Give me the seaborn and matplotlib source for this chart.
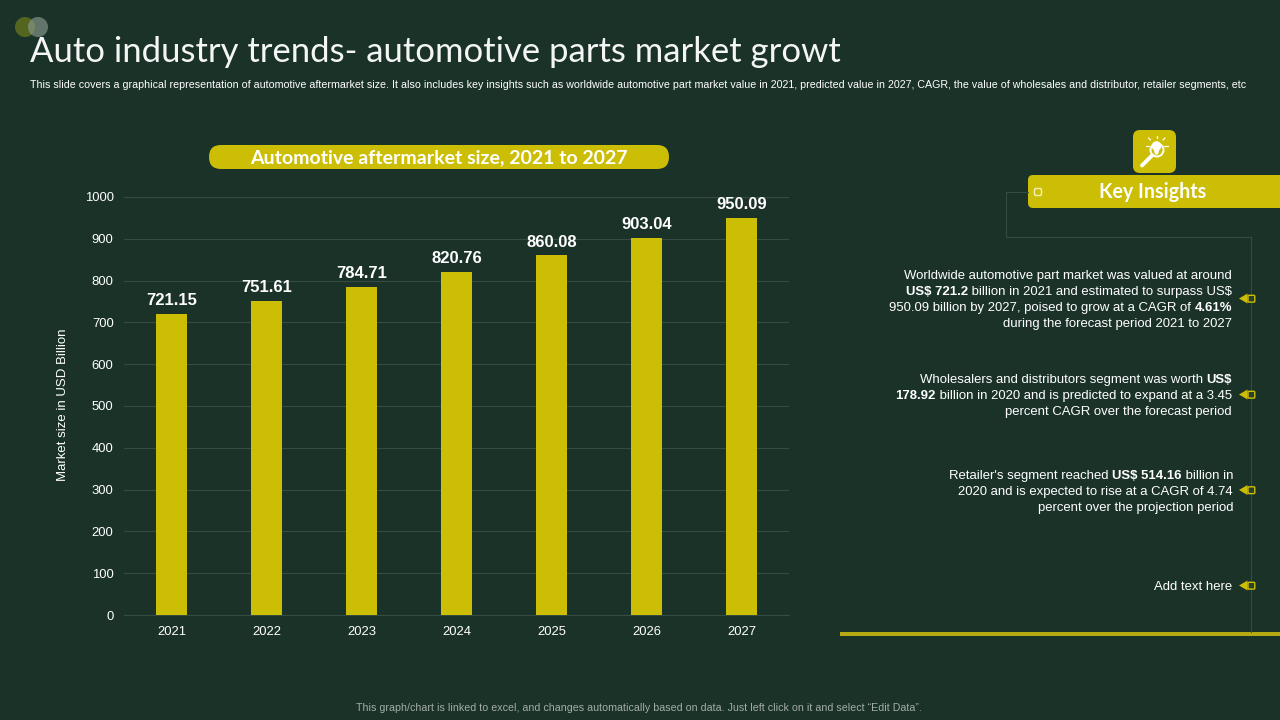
import matplotlib
matplotlib.use("Agg")
import matplotlib.pyplot as plt
from matplotlib.patches import FancyBboxPatch, Rectangle, Circle, Polygon
import pandas as pd
import seaborn as sns

years = ["2021", "2022", "2023", "2024", "2025", "2026", "2027"]
market_size = [721.15, 751.61, 784.71, 820.76, 860.08, 903.04, 950.09]
value_labels = ["721.15", "751.61", "784.71", "820.76", "860.08", "903.04", "950.09"]
y_ticks = [0, 100, 200, 300, 400, 500, 600, 700, 800, 900, 1000]

title = "Auto industry trends- automotive parts market growt"
subtitle = ("This slide covers a graphical representation of automotive aftermarket size. It also includes key insights such as "
            "worldwide automotive part market value in 2021, predicted value in 2027, CAGR, the value of wholesales and distributor, retailer segments, etc")
chart_title = "Automotive aftermarket size, 2021 to 2027"
y_label = "Market size in USD Billion"
footer = "This graph/chart is linked to excel, and changes automatically based on data. Just left click on it and select \u201cEdit Data\u201d."
insight_head = "Key Insights"
insights = [
    [[("Worldwide automotive part market was valued at around", False)],
     [("US$ 721.2", True), (" billion in 2021 and estimated to surpass US$", False)],
     [("950.09 billion by 2027, poised to grow at a CAGR of ", False), ("4.61%", True)],
     [("during the forecast period 2021 to 2027", False)]],
    [[("Wholesalers and distributors segment was worth ", False), ("US$", True)],
     [("178.92", True), (" billion in 2020 and is predicted to expand at a 3.45", False)],
     [("percent CAGR over the forecast period", False)]],
    [[("Retailer's segment reached ", False), ("US$ 514.16", True), (" billion in", False)],
     [("2020 and is expected to rise at a CAGR of 4.74", False)],
     [("percent over the projection period", False)]],
    [[("Add text here", False)]],
]

BG = "#1B3229"
YEL = "#CCBE04"
WHITE = "#FFFFFF"
GRID = "#364B41"
sns.set_theme(style="dark")
plt.rcParams["font.family"] = ["Liberation Sans", "DejaVu Sans"]

W, H = 1280, 720
fig = plt.figure(figsize=(W / 100, H / 100), dpi=100, facecolor=BG)

# overlay in pixel coordinates
ov = fig.add_axes([0, 0, 1, 1], zorder=0)
ov.set_xlim(0, W); ov.set_ylim(H, 0); ov.axis("off")

ax = fig.add_axes([124 / W, 1 - 615 / H, (789 - 124) / W, (615 - 197) / H], zorder=2, facecolor="none")
df = pd.DataFrame({"year": years, "size": market_size})
sns.barplot(data=df, x="year", y="size", color=YEL, saturation=1, width=0.316, ax=ax, zorder=3, linewidth=0, edgecolor="none")
ax.set_xlim(-0.5, 6.5); ax.set_ylim(0, 1000)
ax.set_yticks(y_ticks)
ax.set_xlabel(""); ax.set_ylabel("")
ax.grid(axis="y", color=GRID, lw=0.8, zorder=0); ax.grid(axis="x", visible=False)
ax.set_axisbelow(True)
for s in ax.spines.values():
    s.set_visible(False)
ax.spines["bottom"].set_visible(True); ax.spines["bottom"].set_color(GRID); ax.spines["bottom"].set_linewidth(0.8)
ax.tick_params(axis="both", colors=WHITE, labelsize=9.4, length=0)
ax.tick_params(axis="y", pad=7.5)
ax.tick_params(axis="x", pad=7.8)
for i, (v, t) in enumerate(zip(market_size, value_labels)):
    ax.annotate(t, (i, v), xytext=(0, 4.2), textcoords="offset points", ha="center", va="bottom",
                color=WHITE, fontsize=12, fontweight="bold")

ov.text(63, 405, y_label, rotation=90, color=WHITE, fontsize=9.5, ha="center", va="center")

# header
ov.add_patch(Circle((25, 27), 10, color="#5A6B1E", alpha=0.9, lw=0))
ov.add_patch(Circle((38, 27), 10, color="#8A9A90", alpha=0.65, lw=0))
ov.text(30, 52, title, color="#F4F6F5", fontsize=24.9, family=["Lato", "DejaVu Sans"], ha="left", va="center")
ov.text(30, 84.5, subtitle, color=WHITE, fontsize=7.66, ha="left", va="center")
ov.text(639, 708, footer, color="#A3ADA8", fontsize=7.64, ha="center", va="center")

# chart title pill
ov.add_patch(FancyBboxPatch((209, 145), 460, 24, boxstyle="round,pad=0,rounding_size=12", fc=YEL, ec="none"))
ov.text(439, 157.5, chart_title, color=WHITE, fontsize=14, fontweight="bold", family=["Lato", "DejaVu Sans"], ha="center", va="center")

# key insights
ov.plot([1028, 1006, 1006, 1251, 1251], [192, 192, 237, 237, 632], color=GRID, lw=0.8)
ov.add_patch(FancyBboxPatch((1133, 130), 43, 43, boxstyle="round,pad=0,rounding_size=7", fc=YEL, ec="none"))
ov.add_patch(FancyBboxPatch((1028, 175), 270, 33, boxstyle="round,pad=0,rounding_size=5", fc=YEL, ec="none"))
ov.add_patch(FancyBboxPatch((1034.5, 188.5), 7, 7, boxstyle="round,pad=0,rounding_size=1.5", fc=YEL, ec="#F3F0C0", lw=1))
ov.text(1153, 191.5, insight_head, color=WHITE, fontsize=14.1, fontweight="bold", family=["Lato", "DejaVu Sans"], ha="center", va="center")

# icon: bulb with magnifier
ov.add_patch(Circle((1157, 150), 6.5, fc="none", ec=WHITE, lw=1.4))
ov.add_patch(Circle((1156.5, 146), 4.8, fc=WHITE, ec="none"))
ov.add_patch(Polygon([[1153.5, 149], [1159.5, 149], [1158, 154.5], [1155, 154.5]], fc=WHITE, ec="none"))
ov.plot([1152, 1142], [155.5, 165.5], color=WHITE, lw=2.8, solid_capstyle="round")
for x0, y0, x1, y1 in [(1157, 138, 1157, 135.5), (1150.5, 140, 1148.5, 138), (1163, 140, 1165, 138),
                       (1164, 146, 1168, 146), (1149, 146, 1146, 146)]:
    ov.plot([x0, x1], [y0, y1], color=WHITE, lw=0.9)

# bottom rule
ov.add_patch(Rectangle((840, 632), 440, 4, fc="#B5AA14", ec="none"))

# insight text, right aligned run by run
fig.canvas.draw()
rend = fig.canvas.get_renderer()
FS = 9.43
def run_line(y, runs, right):
    x = right
    for s, bold in reversed(runs):
        wt = "bold" if bold else "normal"
        g = ov.text(0, 0, "|" + s + "|", fontsize=FS, fontweight=wt)
        g2 = ov.text(0, 0, "||", fontsize=FS, fontweight=wt)
        w = g.get_window_extent(rend).width - g2.get_window_extent(rend).width
        g.remove(); g2.remove()
        x -= w
        ov.text(x, y + 4.5, s, color=WHITE, fontsize=FS, fontweight=wt, ha="left", va="baseline")

rows = [[274.5, 290.5, 306.5, 322.5], [378.5, 394.5, 410.5], [474.5, 490.5, 506.5], [585.5]]
rights = [1232, 1232, 1233, 1232]
marks = [298.5, 394.5, 490, 585.5]
for block, ys, r, my in zip(insights, rows, rights, marks):
    for runs, y in zip(block, ys):
        run_line(y, runs, r)
    ov.add_patch(Polygon([[1239, my], [1247.5, my - 5], [1247.5, my + 5]], fc=YEL, ec="none", zorder=4))
    ov.add_patch(FancyBboxPatch((1248, my - 3.2), 6.8, 6.8, boxstyle="round,pad=0,rounding_size=1", fc="#2B4030", ec=YEL, lw=1, zorder=4))

fig.savefig("out.png", dpi=100, facecolor=BG)
